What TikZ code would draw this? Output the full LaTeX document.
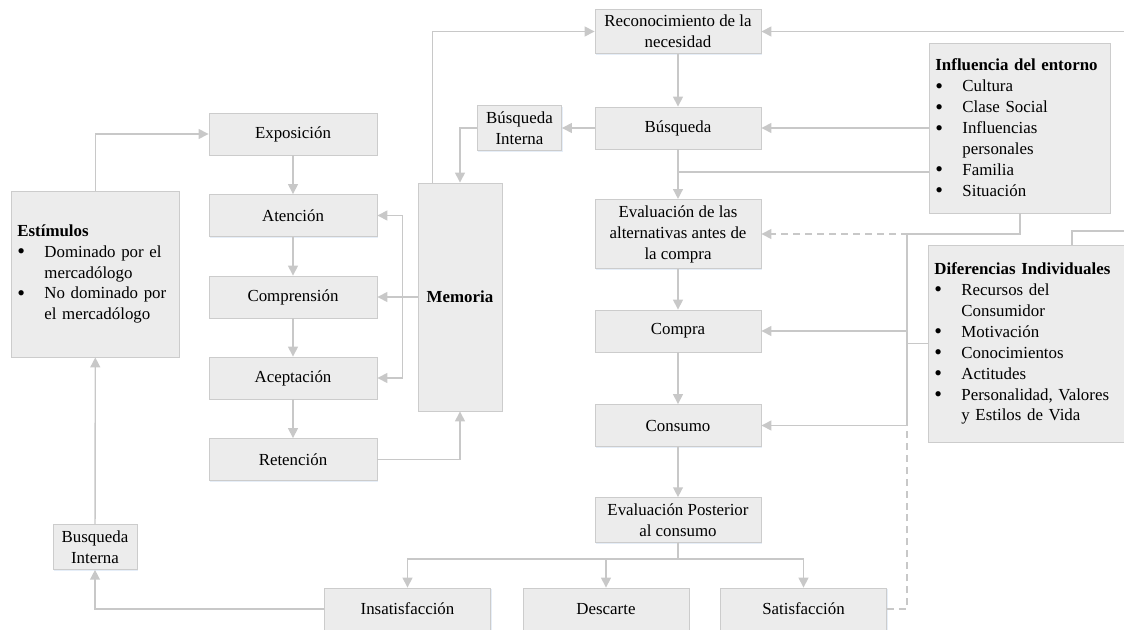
\documentclass[tikz,border=0pt]{standalone}
\usepackage{fontspec}
\setmainfont{Liberation Serif}
\usetikzlibrary{arrows.meta,shadows}

\definecolor{boxfill}{RGB}{236,236,236}
\definecolor{boxline}{RGB}{204,204,204}
\definecolor{linkgray}{RGB}{200,200,200}
\definecolor{shadowblue}{RGB}{205,222,242}

\newcommand{\lstitem}[1]{\mbox{\makebox[0.675cm][l]{\smash{\raisebox{-0.15ex}{\scalebox{1.3}{\textbullet}}}}#1}}
\newcommand{\lstcont}[1]{\mbox{\hspace*{0.675cm}#1}}

\begin{document}
\begin{tikzpicture}[
        x=0.025cm, y=-0.025cm,
        box/.style={rectangle, draw=boxline, fill=boxfill, line width=0.6pt,
            minimum width=4.15cm, minimum height=1.05cm, inner sep=0.15cm, align=center,
            drop shadow={shadow xshift=0.7pt, shadow yshift=-0.9pt, fill=shadowblue}},
        listbox/.style={box, align=left, anchor=west},
        link/.style={draw=linkgray, line width=1pt},
        arr/.style={link, -{Triangle[length=7pt,width=7pt]}}
    ]

    \tikzstyle{every node}=[font=\fontsize{12}{14.9}\selectfont]

    \useasboundingbox (0,0) rectangle (1124,630);
    \clip (0,0) rectangle (1124,630);

    % proceso de decision
    \node[box] (recon) at (678,31.5) {Reconocimiento de la\\necesidad};
    \node[box] (busq) at (678,128) {Búsqueda};
    \node[box, minimum height=1.7cm] (evalalt) at (678,234) {Evaluación de las\\alternativas antes de\\la compra};
    \node[box] (compra) at (678,331) {Compra};
    \node[box] (consumo) at (678,425.5) {Consumo};
    \node[box] (evalpost) at (678,520) {Evaluación Posterior\\al consumo};
    \node[box] (insat) at (407.5,609) {Insatisfacción};
    \node[box] (descarte) at (606,609) {Descarte};
    \node[box] (satisf) at (803.5,609) {Satisfacción};

    % procesamiento de la informacion
    \node[box, minimum width=4.2cm] (exposicion) at (293,134) {Exposición};
    \node[box, minimum width=4.2cm] (atencion) at (293,215.5) {Atención};
    \node[box, minimum width=4.2cm] (comprension) at (293,297) {Comprensión};
    \node[box, minimum width=4.2cm] (aceptacion) at (293,378) {Aceptación};
    \node[box, minimum width=4.2cm] (retencion) at (293,459.5) {Retención};
    \node[box, minimum width=2.1cm, minimum height=5.7cm] (memoria) at (460,297) {\textbf{Memoria}};
    \node[box, minimum width=2.1cm] (bint1) at (519.5,128) {Búsqueda\\Interna};
    \node[box, minimum width=2.1cm] (bint2) at (95,547) {Busqueda\\Interna};

    \node[listbox, text width=3.9cm, minimum height=4.15cm] (estimulos) at (11,274) {%
        \mbox{\textbf{Estímulos}}\\
        \lstitem{Dominado por el}\\
        \lstcont{mercadólogo}\\
        \lstitem{No dominado por}\\
        \lstcont{el mercadólogo}};

    % variables externas
    \node[listbox, text width=4.225cm, minimum height=4.25cm] (influencia) at (929,128) {%
        \mbox{\textbf{Influencia del entorno}}\\
        \lstitem{Cultura}\\
        \lstitem{Clase Social}\\
        \lstitem{Influencias}\\
        \lstcont{personales}\\
        \lstitem{Familia}\\
        \lstitem{Situación}};
    \node[listbox, text width=4.7cm, minimum height=4.925cm] (diferencias) at (928,343.5) {%
        \mbox{\textbf{Diferencias Individuales}}\\
        \lstitem{Recursos del}\\
        \lstcont{Consumidor}\\
        \lstitem{Motivación}\\
        \lstitem{Conocimientos}\\
        \lstitem{Actitudes}\\
        \lstitem{Personalidad, Valores}\\
        \lstcont{y Estilos de Vida}};

    \coordinate (busjoin) at (678,172);
    \coordinate (topright) at (1130,31.5);
    \coordinate (difright) at (1130,231);
    \coordinate (bustop) at (907,234);
    \coordinate (busbot) at (907,425.5);
    \coordinate (membus) at (402.5,297);

    \foreach \a/\b in {recon/busq, busq/evalalt, evalalt/compra, compra/consumo,
        consumo/evalpost, exposicion/atencion, atencion/comprension,
        comprension/aceptacion, aceptacion/retencion, bint2/estimulos, busq/bint1}
        \draw[arr] (\a) -- (\b);

    \draw[arr] ([xshift=0.375cm]memoria.north west) |- (recon.west);
    \draw[arr] (bint1.west) -| (memoria.north);
    \draw[arr] (memoria.west) -- (comprension.east);
    \draw[arr] (membus) |- (atencion.east);
    \draw[arr] (membus) |- (aceptacion.east);
    \draw[arr] (retencion.east) -| (memoria.south);
    \draw[arr] (estimulos.north) |- (exposicion.west);
    \draw[arr] (insat.west) -| (bint2.south);
    \foreach \t in {insat, descarte, satisf}
        \draw[arr] (evalpost.south) -- ++(0,16) -| (\t.north);

    % entorno y diferencias
    \draw[arr] (topright) -- (recon.east);
    \draw[link] (difright) -| ([xshift=3.6cm]diferencias.north west);
    \draw[arr] (influencia.west) -- (busq.east);
    \draw[link] (influencia.west |- busjoin) -- (busjoin);
    \draw[arr, dash pattern=on 5pt off 3.5pt] (satisf.east) -| (bustop) -- (evalalt.east);
    \draw[link] (influencia.south) |- (bustop) -- (busbot);
    \draw[arr] (bustop |- compra) -- (compra.east);
    \draw[arr] (busbot) -- (consumo.east);
    \draw[link] (diferencias.west) -- (diferencias.west -| bustop);

\end{tikzpicture}
\end{document}
